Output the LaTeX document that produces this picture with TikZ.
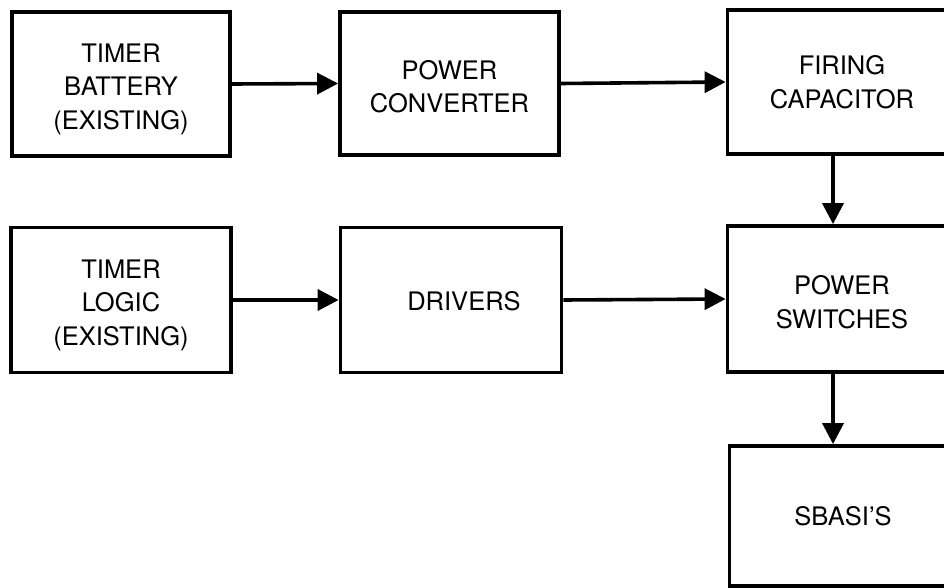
\documentclass[tikz,border=0pt]{standalone}
\usepackage{fontspec}
\setmainfont{TeX Gyre Heros}
\usetikzlibrary{arrows.meta}
\begin{document}
\begin{tikzpicture}[x=1pt,y=-1pt,
  blk/.style={draw=black,line width=3.8pt,rectangle,inner sep=0pt},
  txt/.style={align=center,inner sep=0pt,font=\fontsize{25.5}{33.5}\selectfont},
  conn/.style={line width=3.6pt,-{Triangle[length=21pt,width=21pt]}}]
\useasboundingbox (0,0) rectangle (944,588);
\clip (0,0) rectangle (944,588);
\fill[white] (0,0) rectangle (944,588);
\node[blk,minimum width=218pt,minimum height=144pt,
  label={[txt,yshift=-5pt]center:{TIMER\\BATTERY\\(EXISTING)}}] (tb) at (121,84) {};
\node[blk,minimum width=219pt,minimum height=143pt,
  label={[txt,yshift=-3pt]center:{POWER\\CONVERTER}}] (pc) at (449.5,83.5) {};
\node[blk,minimum width=229pt,minimum height=144pt,
  label={[txt]center:{FIRING\\CAPACITOR}}] (fc) at (842,82) {};
\node[blk,minimum width=220pt,minimum height=145pt,
  label={[txt,yshift=-5pt]center:{TIMER\\LOGIC\\(EXISTING)}}] (tl) at (121,300) {};
\node[blk,minimum width=221pt,minimum height=145pt,
  label={[txt,xshift=13pt,yshift=-1pt]center:{DRIVERS}}] (dr) at (451,300) {};
\node[blk,minimum width=229pt,minimum height=146pt,
  label={[txt,yshift=-3pt]center:{POWER\\SWITCHES}}] (ps) at (842,299) {};
\node[blk,minimum width=227pt,minimum height=140pt,
  label={[txt]center:{SBASI’S}}] (sb) at (843,516) {};
\draw[conn] (tb.east) -- (pc.west);
\draw[conn] (pc.east) -- (fc.west);
\draw[conn] (tl.east) -- (dr.west);
\draw[conn] (dr.east) -- (ps.west);
\draw[conn] ([xshift=-9pt]fc.south) -- ([xshift=-9pt]ps.north);
\draw[conn] ([xshift=-9pt]ps.south) -- ([xshift=-10pt]sb.north);
\end{tikzpicture}
\end{document}
